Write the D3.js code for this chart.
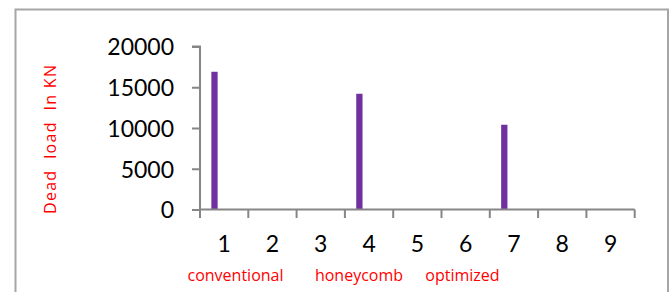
<!DOCTYPE html>
<html>
<head>
<meta charset="utf-8">
<script src="https://cdn.jsdelivr.net/npm/d3@7"></script>
<style>
html,body{margin:0;padding:0;background:#fff;}
svg{display:block;}
</style>
</head>
<body>
<svg id="chart" width="672" height="292"></svg>
<script>
const categories = ["1","2","3","4","5","6","7","8","9"];
const deadLoad = [16900, null, null, 14200, null, null, 10400, null, null];
const yTicks = [0, 5000, 10000, 15000, 20000];
const typeLabels = ["conventional", "honeycomb", "optimized"];
const typeLabelX = [235.5, 359, 462.5];
const yTitle = "Dead\u00a0\u00a0load\u00a0\u00a0In KN";

const svg = d3.select("#chart");
const font = "Lato, 'Open Sans', sans-serif";
const labelFont = "'Open Sans', sans-serif";
const axisColor = "#868686";

// outer frame
svg.append("rect")
  .attr("x", 15.5).attr("y", 9.5)
  .attr("width", 652.5).attr("height", 300)
  .attr("fill", "none").attr("stroke", "#a6a6a6").attr("stroke-width", 2);

const x = d3.scaleBand().domain(categories).range([200, 634.7]).paddingInner(0).paddingOuter(0);
const y = d3.scaleLinear().domain([0, 20000]).range([209.5, 46.5]);

// bars (first slot of category cluster)
const barOffset = 0.235, barWidth = 0.13;
svg.append("g").selectAll("rect")
  .data(categories.map((c, i) => ({c, v: deadLoad[i]})).filter(d => d.v != null))
  .join("rect")
  .attr("x", d => x(d.c) + x.bandwidth() * barOffset)
  .attr("width", x.bandwidth() * barWidth)
  .attr("y", d => y(d.v))
  .attr("height", d => y(0) - y(d.v))
  .attr("fill", "#7030a0");

// y axis
const yAxis = d3.axisLeft(y).tickValues(yTicks).tickSize(8).tickPadding(18).tickFormat(d3.format("d"));
const gy = svg.append("g").attr("transform", "translate(200,0)").call(yAxis);
gy.select(".domain").attr("stroke", axisColor).attr("stroke-width", 2).attr("d", `M-8,${y(20000)}H0V${y(0)}H0`);
gy.selectAll(".tick line").attr("stroke", axisColor).attr("stroke-width", 2);
gy.selectAll(".tick text").attr("font-family", font).attr("font-size", 23).attr("fill", "#000").attr("dy", "0.36em");

// x axis with tick marks at category boundaries
const gx = svg.append("g").attr("transform", `translate(0,${y(0)})`);
gx.append("line").attr("x1", x.range()[0]).attr("x2", x.range()[1])
  .attr("stroke", axisColor).attr("stroke-width", 2);
const bounds = categories.map(c => x(c)).concat([x.range()[1]]);
gx.selectAll("line.tk").data(bounds).join("line").attr("class", "tk")
  .attr("x1", d => d).attr("x2", d => d).attr("y1", 0).attr("y2", 8.5)
  .attr("stroke", axisColor).attr("stroke-width", 2);
gx.selectAll("text").data(categories).join("text")
  .attr("x", d => x(d) + x.bandwidth() / 2)
  .attr("y", 42.5)
  .attr("text-anchor", "middle")
  .attr("font-family", font).attr("font-size", 23).attr("fill", "#000")
  .text(d => d);

// y title
svg.append("text")
  .attr("transform", "translate(56,139.5) rotate(-90)")
  .attr("text-anchor", "middle")
  .attr("font-family", labelFont).attr("font-size", 16).attr("fill", "#ff0000")
  .attr("textLength", 149).attr("lengthAdjust", "spacing")
  .text(yTitle);

// type labels
svg.append("g").selectAll("text").data(typeLabels).join("text")
  .attr("x", (d, i) => typeLabelX[i]).attr("y", 281)
  .attr("text-anchor", "middle")
  .attr("font-family", labelFont).attr("font-size", 16).attr("fill", "#ff0000")
  .text(d => d);
</script>
</body>
</html>
